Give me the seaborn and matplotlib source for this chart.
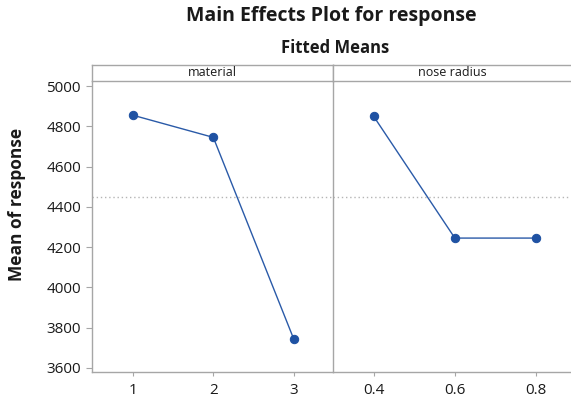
import matplotlib
matplotlib.use("Agg")
import matplotlib.pyplot as plt
import seaborn as sns
import pandas as pd
import numpy as np

# Data
material_levels = [1, 2, 3]
material_means = [4855, 4745, 3745]
nose_levels = [0.4, 0.6, 0.8]
nose_means = [4850, 4245, 4245]
yticks = [3600, 3800, 4000, 4200, 4400, 4600, 4800, 5000]
grand_mean = 4447

sns.set_theme(style="white")
plt.rcParams['font.family'] = ['Open Sans', 'DejaVu Sans']

W, H = 571, 405
fig = plt.figure(figsize=(W / 100, H / 100), dpi=100)

def fx(px):
    return px / W

def fy(py):
    return 1 - py / H

left_px, mid_px, right_px = 92, 333, 571
top_px, bot_px, strip_top_px = 81, 372, 65

ax1 = fig.add_axes([fx(left_px), fy(bot_px), fx(mid_px - left_px), fy(top_px) - fy(bot_px)])
ax2 = fig.add_axes([fx(mid_px), fy(bot_px), fx(right_px - mid_px) + 0.01, fy(top_px) - fy(bot_px)], sharey=ax1)

line_color = "#2a5aa8"
marker_color = "#1f52a3"
grid_gray = "#a6a6a6"
text_color = "#1a1a1a"

df1 = pd.DataFrame({"level": material_levels, "mean": material_means})
df2 = pd.DataFrame({"level": nose_levels, "mean": nose_means})

for ax, df in [(ax1, df1), (ax2, df2)]:
    ax.axhline(grand_mean, color="#b5b5b5", linestyle=(0, (1, 2)), linewidth=1, zorder=1)
    sns.lineplot(data=df, x="level", y="mean", ax=ax, color=line_color, linewidth=1,
                 marker="o", markersize=6, markerfacecolor=marker_color,
                 markeredgecolor=marker_color, zorder=3)
    ax.set_xlabel("")
    ax.set_ylabel("")
    for s in ["top", "right"]:
        ax.spines[s].set_visible(False)
    for s in ["left", "bottom"]:
        ax.spines[s].set_color(grid_gray)
        ax.spines[s].set_linewidth(1)
    ax.tick_params(axis="x", direction="out", length=3, width=0.8, color=grid_gray,
                   labelsize=11, labelcolor=text_color, pad=5, bottom=True)

ax1.set_xlim(0.49, 3.49)
ax1.set_xticks(material_levels)
ax1.set_xticklabels([str(v) for v in material_levels])
ax2.set_xlim(0.3, 0.9)
ax2.set_xticks(nose_levels)
ax2.set_xticklabels([str(v) for v in nose_levels])

ax1.set_ylim(3580, 5025)
ax1.set_yticks(yticks)
ax1.set_yticklabels([str(v) for v in yticks])
ax1.tick_params(axis="y", direction="out", length=4, width=0.8, color=grid_gray,
                labelsize=11, labelcolor=text_color, pad=4, left=True)
ax2.tick_params(axis="y", left=False, labelleft=False)

# strip headers
for l, r, label in [(left_px, mid_px, "material"), (mid_px, right_px, "nose radius")]:
    extra = 0.01 if r == right_px else 0
    sax = fig.add_axes([fx(l), fy(top_px), fx(r - l) + extra, fy(strip_top_px) - fy(top_px)])
    sax.set_xticks([])
    sax.set_yticks([])
    sax.set_facecolor("white")
    for s in sax.spines.values():
        s.set_color(grid_gray)
        s.set_linewidth(1)
    sax.spines["right"].set_visible(r != right_px)
    fig.text(fx((l + r) / 2), fy((top_px + strip_top_px) / 2), label,
             ha="center", va="center", fontsize=9, color=text_color)

fig.text(fx(331), fy(16), "Main Effects Plot for response", ha="center", va="center",
         fontsize=14, fontweight="bold", color=text_color)
fig.text(fx(335), fy(48), "Fitted Means", ha="center", va="center",
         fontsize=12, fontweight="bold", color=text_color)
fig.text(fx(17), fy(204), "Mean of response", ha="center", va="center", rotation=90,
         fontsize=12.5, fontweight="bold", color=text_color)

fig.savefig("out.png", dpi=100)
